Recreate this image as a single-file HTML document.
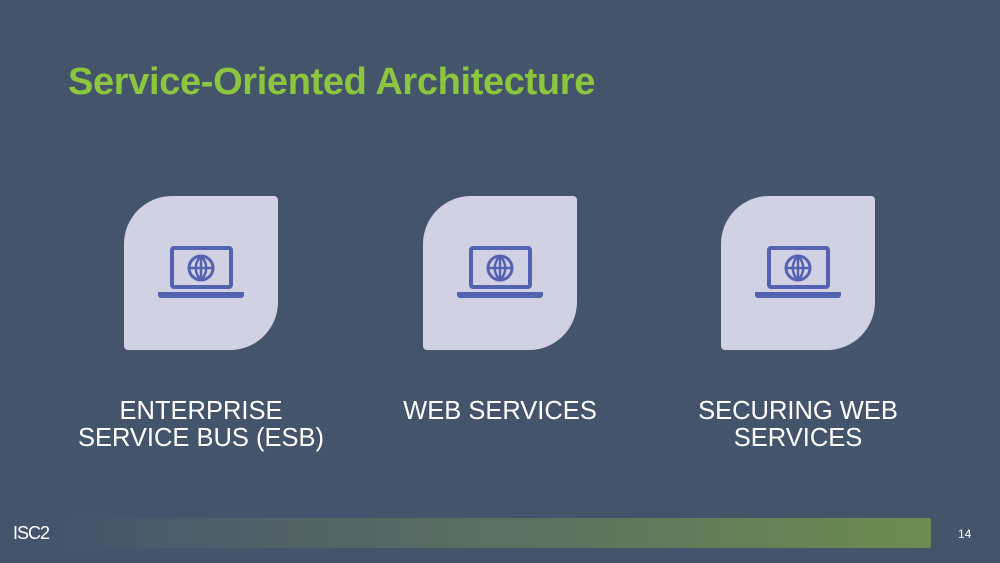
<!DOCTYPE html>
<html><head><style>
body{margin:0;width:1000px;height:563px;background:#44546a;position:relative;overflow:hidden;font-family:"Liberation Sans",sans-serif}
.t{position:absolute;left:68px;top:61px;font-size:38px;font-weight:bold;color:#8cc63e;letter-spacing:-0.35px}
.box{position:absolute;top:196px;width:154px;height:154px;background:#d0d2e4;border-radius:48px 4px 48px 4px}
.box svg{position:absolute;left:0;top:0}
.lab{position:absolute;top:398px;width:300px;text-align:center;color:#fff;font-size:25.5px;line-height:27px}
.bar{position:absolute;left:60px;top:518px;width:871px;height:30px;border-radius:2px;background:linear-gradient(90deg,rgba(68,84,106,1) 0%,#4f5f68 20%,#5c7160 55%,#6c8c50 100%)}
</style></head><body>
<div class="t">Service-Oriented Architecture</div>
<div class="box" style="left:124px"><svg width="154" height="154"><g fill="none" stroke="#5562b0" stroke-width="4"><rect x="48" y="52" width="59" height="39" rx="2"/><circle cx="77" cy="72" r="12" stroke-width="3"/><path d="M65 72h24M77 60v24M77 60c-7 7-7 17 0 24M77 60c7 7 7 17 0 24" stroke-width="2.5"/></g><path d="M34 96h86v3a3 3 0 0 1-3 3H37a3 3 0 0 1-3-3z" fill="#5562b0"/></svg></div>
<div class="box" style="left:423px"><svg width="154" height="154"><g fill="none" stroke="#5562b0" stroke-width="4"><rect x="48" y="52" width="59" height="39" rx="2"/><circle cx="77" cy="72" r="12" stroke-width="3"/><path d="M65 72h24M77 60v24M77 60c-7 7-7 17 0 24M77 60c7 7 7 17 0 24" stroke-width="2.5"/></g><path d="M34 96h86v3a3 3 0 0 1-3 3H37a3 3 0 0 1-3-3z" fill="#5562b0"/></svg></div>
<div class="box" style="left:721px"><svg width="154" height="154"><g fill="none" stroke="#5562b0" stroke-width="4"><rect x="48" y="52" width="59" height="39" rx="2"/><circle cx="77" cy="72" r="12" stroke-width="3"/><path d="M65 72h24M77 60v24M77 60c-7 7-7 17 0 24M77 60c7 7 7 17 0 24" stroke-width="2.5"/></g><path d="M34 96h86v3a3 3 0 0 1-3 3H37a3 3 0 0 1-3-3z" fill="#5562b0"/></svg></div>
<div class="lab" style="left:51px">ENTERPRISE<br>SERVICE BUS (ESB)</div>
<div class="lab" style="left:350px">WEB SERVICES</div>
<div class="lab" style="left:648px">SECURING WEB<br>SERVICES</div>
<div class="bar"></div>
<div style="position:absolute;left:13px;top:523px;color:#fff;font-size:18px;letter-spacing:-1px">ISC2</div>
<div style="position:absolute;left:958px;top:527px;color:#fff;font-size:12px">14</div>
</body></html>
